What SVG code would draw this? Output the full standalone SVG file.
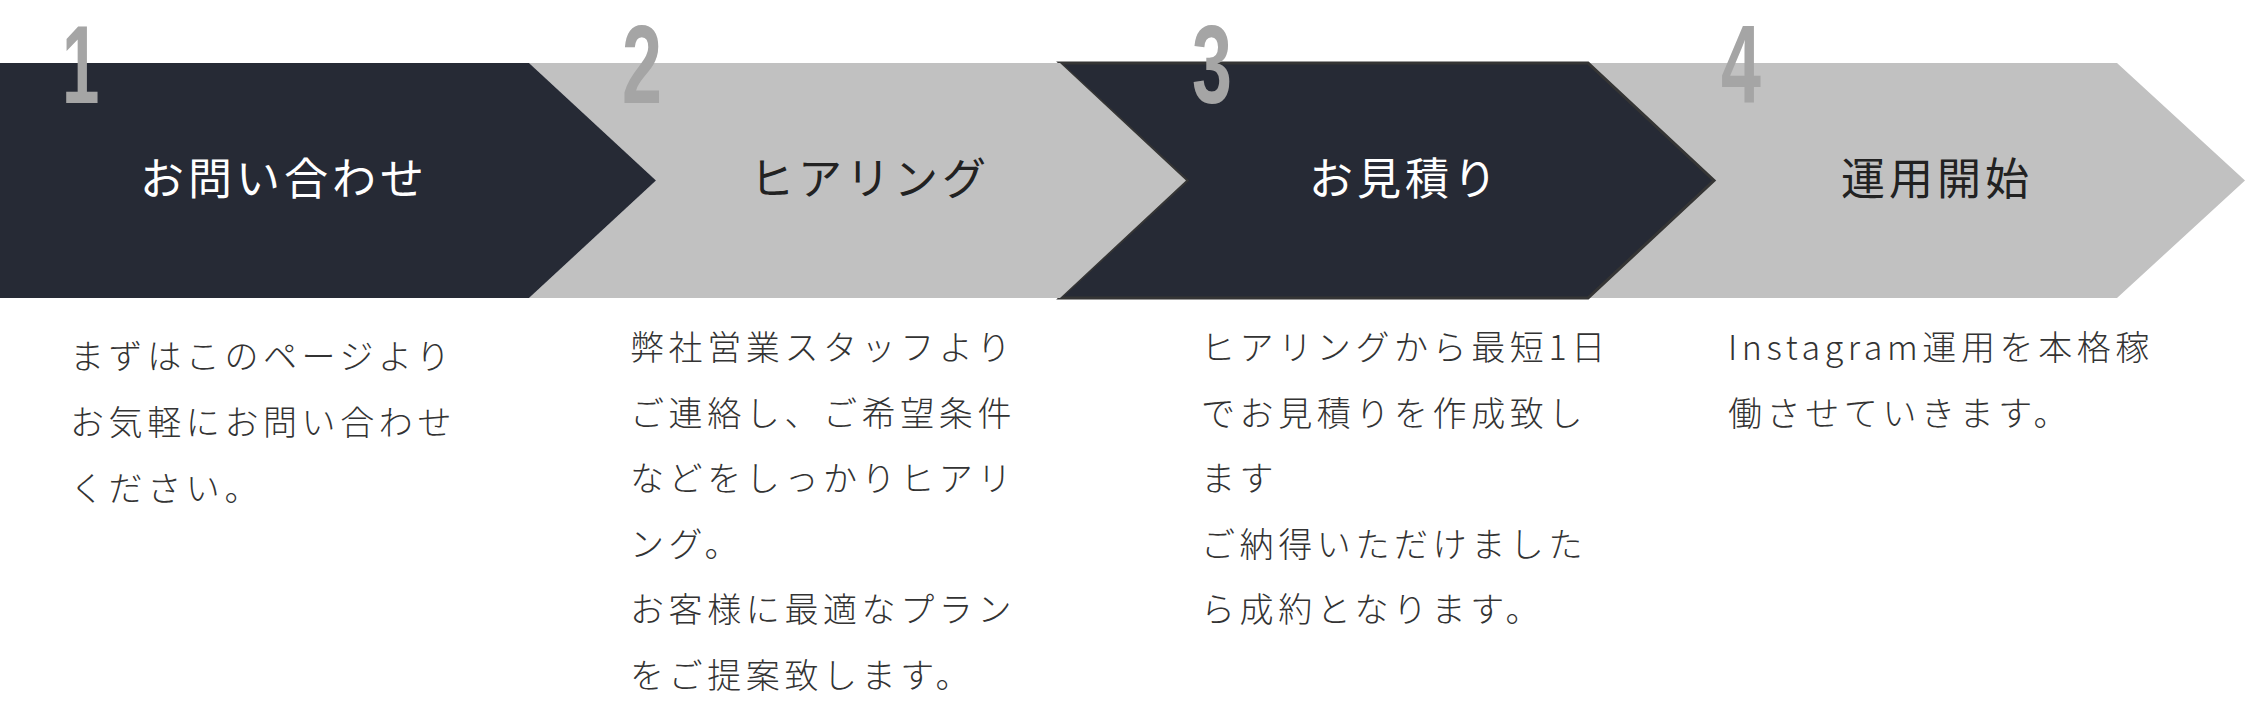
<svg xmlns="http://www.w3.org/2000/svg" width="2247" height="702" viewBox="0 0 2247 702">
<style>
.dark{fill:#262a35}
.grey{fill:#c1c1c1}
.num{font-family:"Liberation Sans",Arial,sans-serif;font-weight:bold;font-size:112px;fill:#a5a5a5}
.title{font-family:"Noto Sans CJK JP","Noto Sans",sans-serif;font-size:44px;letter-spacing:4px;text-anchor:middle}
.tw{fill:#ffffff}
.tb{fill:#222222}
.body{font-family:"Noto Sans CJK JP","Noto Sans",sans-serif;font-weight:300;font-size:34px;letter-spacing:4.6px;fill:#333333}
</style>
<rect width="2247" height="702" fill="#ffffff"/>
<g id="step4">
<polygon class="grey" points="1588,63 2117,63 2245,180.5 2117,298 1588,298 1715,180.5"/>
<text class="title tb" x="1937" y="195">運用開始</text>
</g>
<g id="step3">
<polygon class="dark" points="1060,63 1588,63 1714,180.5 1588,298 1060,298 1187,180.5" stroke="#353535" stroke-width="3" stroke-linejoin="miter"/>
<text class="title tw" x="1405" y="195">お見積り</text>
</g>
<g id="step2">
<polygon class="grey" points="529,63 1060,63 1186,180.5 1060,298 529,298 656,180.5"/>
<text class="title tb" x="870" y="195">ヒアリング</text>
</g>
<g id="step1">
<polygon class="dark" points="0,63 529,63 656,180.5 529,298 0,298"/>
<text class="title tw" x="284" y="195">お問い合わせ</text>
</g>
<g id="numbers">
<text class="num" transform="translate(62,103) scale(0.6,1)">1</text>
<text class="num" transform="translate(622,103) scale(0.64,1)">2</text>
<text class="num" transform="translate(1192,103) scale(0.64,1)">3</text>
<text class="num" transform="translate(1721,103) scale(0.64,1)">4</text>
</g>
<g id="desc1">
<text class="body" x="70" y="369">まずはこのページより</text>
<text class="body" x="70" y="435">お気軽にお問い合わせ</text>
<text class="body" x="70" y="501">ください。</text>
</g>
<g id="desc2">
<text class="body" x="630" y="360">弊社営業スタッフより</text>
<text class="body" x="630" y="426">ご連絡し、ご希望条件</text>
<text class="body" x="630" y="491">などをしっかりヒアリ</text>
<text class="body" x="630" y="557">ング。</text>
<text class="body" x="630" y="622">お客様に最適なプラン</text>
<text class="body" x="630" y="688">をご提案致します。</text>
</g>
<g id="desc3">
<text class="body" x="1201" y="360">ヒアリングから最短1日</text>
<text class="body" x="1201" y="426">でお見積りを作成致し</text>
<text class="body" x="1201" y="491">ます</text>
<text class="body" x="1201" y="557">ご納得いただけました</text>
<text class="body" x="1201" y="622">ら成約となります。</text>
</g>
<g id="desc4">
<text class="body" x="1728" y="360">Instagram運用を本格稼</text>
<text class="body" x="1728" y="426">働させていきます。</text>
</g>
</svg>
